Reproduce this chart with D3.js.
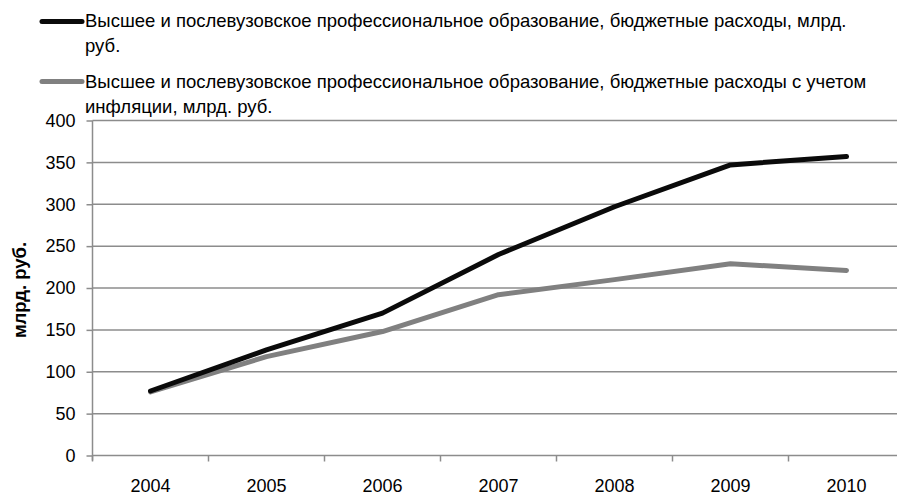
<!DOCTYPE html>
<html><head><meta charset="utf-8">
<script src="https://cdn.jsdelivr.net/npm/d3@7"></script>
<style>body{margin:0;background:#fff}svg{display:block}</style>
</head><body><svg id="c" width="897" height="498"></svg>
<script>
const years = ["2004","2005","2006","2007","2008","2009","2010"];
const nominal = [77, 126, 170, 240, 297, 347, 357];
const real = [76, 118, 148, 192, 210, 229, 221];
const yTicks = [0,50,100,150,200,250,300,350,400];
const legendLines1 = ["Высшее и послевузовское профессиональное образование, бюджетные расходы, млрд.", "руб."];
const legendLines2 = ["Высшее и послевузовское профессиональное образование, бюджетные расходы с учетом", "инфляции, млрд. руб."];
const yTitle = "млрд. руб.";

const narrow = "'Liberation Sans Narrow','Liberation Sans',sans-serif";
const regular = "'Liberation Sans',Arial,sans-serif";
const svg = d3.select("#c");
const x = d3.scaleBand().domain(years).range([92.5, 904.5]);
const y = d3.scaleLinear().domain([0,400]).range([455.5, 120.5]);

// gridlines
svg.append("g").selectAll("line").data(yTicks.filter(d=>d>0)).join("line")
  .attr("x1",92.5).attr("x2",897).attr("y1",d=>y(d)).attr("y2",d=>y(d))
  .attr("stroke","#8c8c8c").attr("stroke-width",1.5);

// y axis
const ya = svg.append("g").attr("transform","translate(92.5,0)")
  .call(d3.axisLeft(y).tickValues(yTicks).tickSize(6).tickPadding(11));
ya.select(".domain").attr("stroke","#8c8c8c").attr("stroke-width",1.5).attr("d","M0,"+y(400)+"V"+(y(0)+5));
ya.selectAll(".tick line").attr("stroke","#8c8c8c").attr("stroke-width",1.5);
ya.selectAll(".tick text").attr("font-size",18).attr("fill","#000").style("font-family",regular);

// x axis
const xa = svg.append("g").attr("transform","translate(0,"+y(0)+")")
  .call(d3.axisBottom(x).tickSize(0).tickPadding(24));
xa.select(".domain").attr("stroke","#8c8c8c").attr("stroke-width",1.5).attr("d","M92.5,0H897");
xa.selectAll(".tick text").attr("font-size",18).attr("fill","#000").style("font-family",regular);
// band boundary ticks
svg.append("g").selectAll("line").data(years).join("line")
  .attr("x1",d=>x(d)).attr("x2",d=>x(d)).attr("y1",y(0)).attr("y2",y(0)+6)
  .attr("stroke","#8c8c8c").attr("stroke-width",1.5);

// lines
const line = d3.line().x((d,i)=>x(years[i])+x.bandwidth()/2).y(d=>y(d));
svg.append("path").datum(real).attr("d",line).attr("fill","none")
  .attr("stroke","#808080").attr("stroke-width",5).attr("stroke-linecap","round").attr("stroke-linejoin","round");
svg.append("path").datum(nominal).attr("d",line).attr("fill","none")
  .attr("stroke","#0a0a0a").attr("stroke-width",5).attr("stroke-linecap","round").attr("stroke-linejoin","round");

// y title
svg.append("text").attr("transform","translate(26,290) rotate(-90)").attr("text-anchor","middle")
  .style("font-family",regular).attr("font-size",18.5).attr("font-weight","bold").text(yTitle);

// legend
const legendTexts = [];
function legend(lines, color, y0, ly){
  svg.append("line").attr("x1",42).attr("x2",82).attr("y1",ly).attr("y2",ly)
    .attr("stroke",color).attr("stroke-width",5).attr("stroke-linecap","round");
  lines.forEach((t,i)=>legendTexts.push(svg.append("text").attr("x",85).attr("y",y0+i*25)
    .style("font-family",narrow).attr("font-size",18).attr("fill","#000").text(t)));
}
legend(legendLines1,"#0a0a0a",27,21.5);
legend(legendLines2,"#808080",88,81.5);
// fit font size so first legend line spans like the reference (~762px)
const w0 = legendTexts[0].node().getComputedTextLength();
const fsz = Math.min(20, Math.max(15, 18 * 762 / w0));
legendTexts.forEach(t=>t.attr("font-size",fsz));
</script></body></html>
